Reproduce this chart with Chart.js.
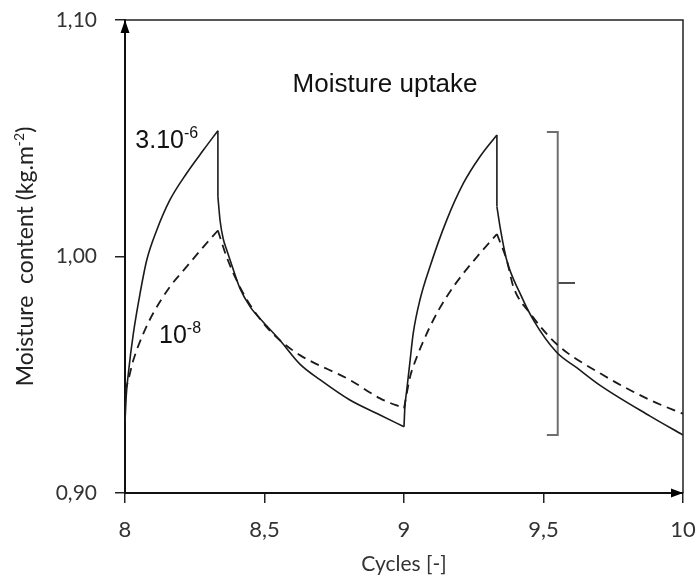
<!DOCTYPE html>
<html>
<head>
<meta charset="utf-8">
<script src="https://cdn.jsdelivr.net/npm/chart.js@4.4.1/dist/chart.umd.min.js"></script>
<style>
  html, body { margin: 0; padding: 0; background: #fff; }
  #wrap { width: 697px; height: 579px; }
</style>
</head>
<body>
<div id="wrap"><canvas id="chart"></canvas></div>
<script>
// 3.10^-6 curve (solid)
const solidX = [8.000, 8.005, 8.012, 8.030, 8.054, 8.078, 8.114, 8.161, 8.221, 8.281, 8.333, 8.333,
  8.341, 8.352, 8.364, 8.388, 8.412, 8.450, 8.496, 8.556, 8.627, 8.700, 8.806, 8.914, 9.000,
  9.003, 9.010, 9.022, 9.033, 9.057, 9.093, 9.153, 9.213, 9.272, 9.333, 9.333,
  9.345, 9.368, 9.416, 9.464, 9.547, 9.619, 9.703, 9.882, 10.000];
const solidY = [0.9300, 0.9420, 0.9506, 0.9675, 0.9844, 0.9985, 1.0112, 1.0239, 1.0352, 1.0450, 1.0532, 1.0253,
  1.0150, 1.0075, 1.0030, 0.9945, 0.9865, 0.9785, 0.9722, 0.9645, 0.9545, 0.9478, 0.9393, 0.9330, 0.9280,
  0.9360, 0.9436, 0.9562, 0.9675, 0.9816, 0.9957, 1.0154, 1.0310, 1.0422, 1.0514, 1.0211,
  1.0120, 0.9985, 0.9844, 0.9731, 0.9595, 0.9530, 0.9455, 0.9325, 0.9245];

// 10^-8 curve (dashed)
const dashX = [8.000, 8.008, 8.030, 8.066, 8.101, 8.161, 8.221, 8.281, 8.333,
  8.364, 8.424, 8.496, 8.556, 8.627, 8.806, 8.914, 9.000,
  9.022, 9.033, 9.093, 9.153, 9.213, 9.272, 9.333,
  9.368, 9.392, 9.452, 9.547, 9.703, 9.882, 10.000];
const dashY = [0.9430, 0.9460, 0.9562, 0.9675, 0.9760, 0.9872, 0.9957, 1.0041, 1.0110,
  0.9999, 0.9844, 0.9718, 0.9645, 0.9583, 0.9478, 0.9400, 0.9358,
  0.9492, 0.9534, 0.9703, 0.9830, 0.9929, 1.0013, 1.0095,
  0.9985, 0.9872, 0.9760, 0.9630, 0.9506, 0.9393, 0.9335];

// range bracket on the right
const bracketX = [9.512, 9.551, 9.551, 9.512];
const bracketY = [1.0526, 1.0526, 0.9245, 0.9245];
const midTickX = [9.551, 9.613];
const midTickY = [0.9888, 0.9888];

const xTicks = [8, 8.5, 9, 9.5, 10];
const yTicks = [0.9, 1.0, 1.1];

const pts = (xs, ys) => xs.map((x, i) => ({ x: x, y: ys[i] }));
const comma = s => String(s).replace('.', ',');

// cut a curve into smooth monotone pieces at its cusps and vertical drops
function pieces(xs, ys) {
  const out = [];
  let cur = [{ x: xs[0], y: ys[0] }];
  for (let i = 1; i < xs.length; i++) {
    const p = { x: xs[i], y: ys[i] };
    if (xs[i] === xs[i - 1]) {
      out.push(cur);
      out.push([cur[cur.length - 1], p]); // vertical drop
      cur = [p];
      continue;
    }
    cur.push(p);
    if (i < xs.length - 1 && xs[i + 1] !== xs[i] && (ys[i] - ys[i - 1]) * (ys[i + 1] - ys[i]) < 0) {
      out.push(cur);
      cur = [p];
    }
  }
  out.push(cur);
  return out;
}

const SANS = '"Liberation Sans", Arial, sans-serif';
const TICKF = 'Lato, "Open Sans", sans-serif';

// draw text made of normal and superscript parts
function drawParts(ctx, parts, x, y, size, family, align) {
  const supSize = Math.round(size * 0.62);
  let total = 0;
  parts.forEach(p => {
    ctx.font = (p.sup ? supSize : size) + 'px ' + family;
    p.w = ctx.measureText(p.t).width;
    total += p.w;
  });
  let cx = align === 'center' ? x - total / 2 : x;
  ctx.textAlign = 'left';
  ctx.textBaseline = 'alphabetic';
  parts.forEach(p => {
    ctx.font = (p.sup ? supSize : size) + 'px ' + family;
    ctx.fillText(p.t, cx, p.sup ? y - size * 0.4 : y);
    cx += p.w;
  });
}

const decorPlugin = {
  id: 'decor',
  afterDraw(chart) {
    const { ctx, chartArea: a, scales: { x, y } } = chart;
    ctx.save();
    // top and right frame
    ctx.strokeStyle = '#222';
    ctx.lineWidth = 1.5;
    ctx.beginPath();
    ctx.moveTo(a.left, a.top);
    ctx.lineTo(a.right, a.top);
    ctx.lineTo(a.right, a.bottom);
    ctx.stroke();
    // arrow heads
    ctx.fillStyle = '#000';
    ctx.beginPath();
    ctx.moveTo(a.left, a.top);
    ctx.lineTo(a.left - 4.5, a.top + 13);
    ctx.lineTo(a.left + 4.5, a.top + 13);
    ctx.closePath();
    ctx.fill();
    ctx.beginPath();
    ctx.moveTo(a.right, a.bottom);
    ctx.lineTo(a.right - 12, a.bottom - 4.5);
    ctx.lineTo(a.right - 12, a.bottom + 4.5);
    ctx.closePath();
    ctx.fill();

    // labels inside the plot
    ctx.fillStyle = '#111';
    drawParts(ctx, [{ t: 'Moisture uptake' }], x.getPixelForValue(8.932), y.getPixelForValue(1.0696), 26, SANS, 'center');
    drawParts(ctx, [{ t: '3.10' }, { t: '-6', sup: true }], x.getPixelForValue(8.037), y.getPixelForValue(1.0459), 25, SANS, 'left');
    drawParts(ctx, [{ t: '10' }, { t: '-8', sup: true }], x.getPixelForValue(8.122), y.getPixelForValue(0.9634), 25, SANS, 'left');

    // y axis title
    ctx.translate(33, (a.top + a.bottom) / 2);
    ctx.rotate(-Math.PI / 2);
    ctx.fillStyle = '#222';
    drawParts(ctx, [{ t: 'Moisture  content (kg.m' }, { t: '-2', sup: true }, { t: ')' }], 0, 0, 23, TICKF, 'center');
    ctx.restore();
  }
};

const lineSet = (data, extra) => Object.assign({
  data: data, borderColor: '#1a1a1a', borderWidth: 1.6, pointRadius: 0, fill: false,
  cubicInterpolationMode: data.length > 2 ? 'monotone' : 'default', tension: 0
}, extra);

const datasets = [];
pieces(solidX, solidY).forEach(p => datasets.push(lineSet(p, { label: '3.10-6' })));
pieces(dashX, dashY).forEach(p => datasets.push(lineSet(p, { label: '10-8', borderWidth: 1.8, borderDash: [9, 6] })));
datasets.push(lineSet(pts(bracketX, bracketY), { label: 'range', borderColor: '#6e6e6e', borderWidth: 2, cubicInterpolationMode: 'default' }));
datasets.push(lineSet(pts(midTickX, midTickY), { label: 'mid', borderColor: '#222' }));

const axisStyle = {
  grid: { drawOnChartArea: false, tickLength: 10, color: '#222', lineWidth: 1.5 },
  border: { color: '#111', width: 2 }
};

new Chart(document.getElementById('chart'), {
  type: 'line',
  data: { datasets: datasets },
  options: {
    responsive: true,
    maintainAspectRatio: false,
    animation: false,
    layout: { padding: { top: 20, right: 14, left: 0, bottom: 0 } },
    plugins: { legend: { display: false }, tooltip: { enabled: false } },
    scales: {
      x: {
        type: 'linear', min: 8, max: 10,
        afterBuildTicks: s => { s.ticks = xTicks.map(v => ({ value: v })); },
        afterFit: s => { s.height = 86; s.paddingLeft = 0; s.paddingRight = 0; },
        ticks: { callback: v => comma(v), font: { family: TICKF, size: 22 }, color: '#333', padding: 14, maxRotation: 0 },
        title: { display: true, text: 'Cycles [-]', font: { family: TICKF, size: 21 }, color: '#333', padding: { top: 0, bottom: 2 } },
        ...axisStyle
      },
      y: {
        min: 0.9, max: 1.1,
        afterBuildTicks: s => { s.ticks = yTicks.map(v => ({ value: v })); },
        afterFit: s => { s.width = 125; s.paddingTop = 0; s.paddingBottom = 0; },
        ticks: { callback: v => comma(v.toFixed(2)), font: { family: TICKF, size: 21 }, color: '#333', padding: 18 },
        ...axisStyle
      }
    }
  },
  plugins: [decorPlugin]
});
</script>
</body>
</html>
